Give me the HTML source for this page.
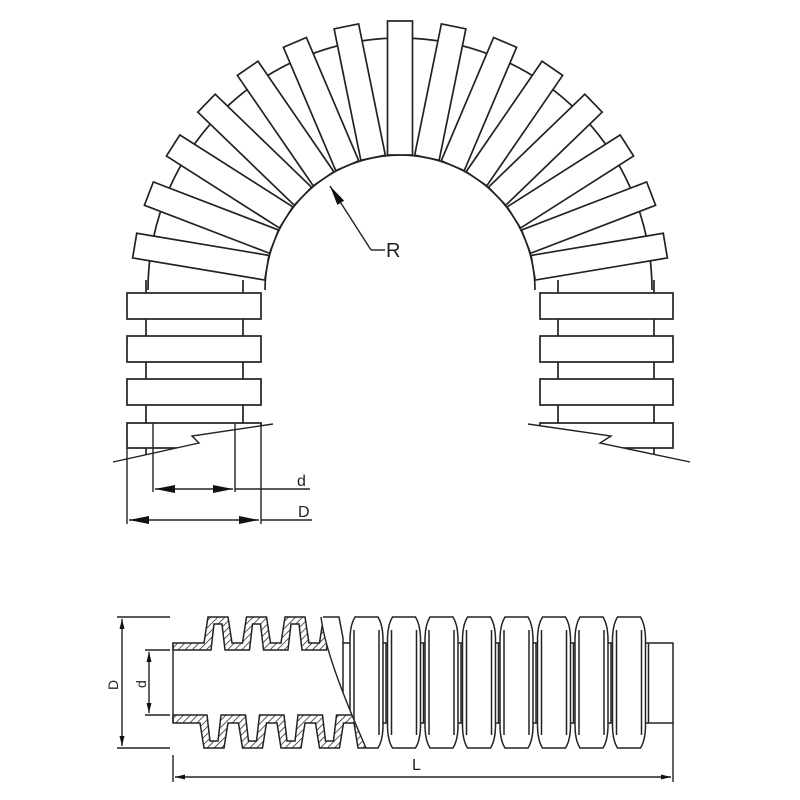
<!DOCTYPE html>
<html><head><meta charset="utf-8"><style>
html,body{margin:0;padding:0;background:#fff;width:800px;height:800px;overflow:hidden}
svg{display:block}
text{font-family:"Liberation Sans",sans-serif;fill:#222}
</style></head><body>
<svg width="800" height="800" viewBox="0 0 800 800" xmlns="http://www.w3.org/2000/svg">
<defs>
<g id="rib"><rect x="387.5" y="21" width="25" height="134" fill="#fff" stroke="#222" stroke-width="1.7"/></g>
<clipPath id="cl"><polygon points="0,0 800,0 800,0 400,300 273,424 192,436 199,443 113,462 0,462"/></clipPath>
<clipPath id="cr"><polygon points="400,0 800,0 800,462 690,462 600,443 611,436 528,424 400,300"/></clipPath>
<clipPath id="cut"><path d="M0,600 L321,600 L321,617 C325,650 345,700 366,748 L366,760 L0,760 Z"/></clipPath>
<pattern id="hatch" width="5" height="5" patternUnits="userSpaceOnUse" patternTransform="rotate(45)">
<rect width="5" height="5" fill="#fff"/><line x1="0" y1="0" x2="0" y2="5" stroke="#222" stroke-width="1.5"/></pattern>
<marker id="ah" viewBox="0 0 20 8" refX="20" refY="4" markerWidth="20" markerHeight="8" markerUnits="userSpaceOnUse" orient="auto-start-reverse"><path d="M0,0 L20,4 L0,8 Z" fill="#111"/></marker>
<marker id="as" viewBox="0 0 12 6" refX="12" refY="3" markerWidth="10" markerHeight="6" markerUnits="userSpaceOnUse" orient="auto-start-reverse"><path d="M0,0 L12,3 L0,6 Z" fill="#111"/></marker>
</defs>
<g fill="none" stroke="#222" stroke-width="1.7">
<path d="M148,290 A252,252 0 0 1 652,290"/>
<path d="M265,290 A135,135 0 0 1 535,290"/>
</g>
<g>
<use href="#rib" transform="rotate(-80.5 400 290)"/>
<use href="#rib" transform="rotate(-69 400 290)"/>
<use href="#rib" transform="rotate(-57.5 400 290)"/>
<use href="#rib" transform="rotate(-46 400 290)"/>
<use href="#rib" transform="rotate(-34.5 400 290)"/>
<use href="#rib" transform="rotate(-23 400 290)"/>
<use href="#rib" transform="rotate(-11.5 400 290)"/>
<use href="#rib" transform="rotate(80.5 400 290)"/>
<use href="#rib" transform="rotate(69 400 290)"/>
<use href="#rib" transform="rotate(57.5 400 290)"/>
<use href="#rib" transform="rotate(46 400 290)"/>
<use href="#rib" transform="rotate(34.5 400 290)"/>
<use href="#rib" transform="rotate(23 400 290)"/>
<use href="#rib" transform="rotate(11.5 400 290)"/>
<use href="#rib"/>
</g>
<g stroke="#222" stroke-width="1.4" fill="none">
<polyline points="371,250 330,186" marker-end="url(#ah)"/>
<line x1="371" y1="250" x2="385" y2="250"/>
</g>
<text x="386" y="257" font-size="20">R</text>
<g clip-path="url(#cl)" fill="#fff" stroke="#222" stroke-width="1.7">
<line x1="146" y1="280" x2="146" y2="470"/><line x1="243" y1="280" x2="243" y2="470"/>
<rect x="127" y="293" width="134" height="26"/>
<rect x="127" y="336" width="134" height="26"/>
<rect x="127" y="379" width="134" height="26"/>
<rect x="127" y="423" width="134" height="25"/>
</g>
<g clip-path="url(#cr)" fill="#fff" stroke="#222" stroke-width="1.7">
<line x1="558" y1="280" x2="558" y2="470"/><line x1="654" y1="280" x2="654" y2="470"/>
<rect x="540" y="293" width="133" height="26"/>
<rect x="540" y="336" width="133" height="26"/>
<rect x="540" y="379" width="133" height="26"/>
<rect x="540" y="423" width="133" height="25"/>
</g>
<g fill="none" stroke="#222" stroke-width="1.4">
<polyline points="113,462 199,443 192,436 273,424"/>
<polyline points="528,424 611,436 600,443 690,462"/>
<line x1="127" y1="448" x2="127" y2="524"/>
<line x1="153" y1="423" x2="153" y2="492"/>
<line x1="235" y1="423" x2="235" y2="492"/>
<line x1="261" y1="423" x2="261" y2="524"/>
<line x1="155" y1="489" x2="233" y2="489" marker-start="url(#ah)" marker-end="url(#ah)"/>
<line x1="235" y1="489" x2="310" y2="489"/>
<line x1="129" y1="520" x2="259" y2="520" marker-start="url(#ah)" marker-end="url(#ah)"/>
<line x1="261" y1="520" x2="312" y2="520"/>
</g>
<text x="297" y="486" font-size="16">d</text>
<text x="298" y="517" font-size="16">D</text>

<g fill="none" stroke="#222" stroke-width="1.4">
<line x1="117" y1="617" x2="205" y2="617"/>
<line x1="117" y1="748" x2="205" y2="748"/>
<line x1="122" y1="619" x2="122" y2="746" marker-start="url(#as)" marker-end="url(#as)"/>
<line x1="145" y1="650" x2="176" y2="650"/>
<line x1="145" y1="715" x2="176" y2="715"/>
<line x1="149" y1="652" x2="149" y2="713" marker-start="url(#as)" marker-end="url(#as)"/>
<line x1="173" y1="715" x2="173" y2="782"/>
<line x1="673" y1="723" x2="673" y2="782"/>
<line x1="175" y1="777" x2="671" y2="777" marker-start="url(#as)" marker-end="url(#as)"/>
</g>
<text x="0" y="0" font-size="14" transform="translate(118,690) rotate(-90)">D</text>
<text x="0" y="0" font-size="14" transform="translate(146,688) rotate(-90)">d</text>
<text x="412" y="770" font-size="16">L</text>

<g fill="#fff" stroke="#222" stroke-width="1.5">
<rect x="330" y="643" width="343" height="80"/>
<line x1="642" y1="643" x2="642" y2="723"/>
<path d="M323,617 L339,617 L343,638 L343,727 L339,748 L335,748"/>
<g id="r1"><path d="M355,617 L378,617 Q383,625 383,640 L383,725 Q383,740 378,748 L355,748 Q350,740 350,725 L350,640 Q350,625 355,617 Z"/>
<line x1="354" y1="630" x2="354" y2="735"/><line x1="379" y1="630" x2="379" y2="735"/>
<line x1="386" y1="643" x2="386" y2="723"/></g>
<use href="#r1" transform="translate(37.5 0)"/>
<use href="#r1" transform="translate(75 0)"/>
<use href="#r1" transform="translate(112.5 0)"/>
<use href="#r1" transform="translate(150 0)"/>
<use href="#r1" transform="translate(187.5 0)"/>
<use href="#r1" transform="translate(225 0)"/>
<use href="#r1" transform="translate(262.5 0)"/>
</g>
<g clip-path="url(#cut)">
<rect x="170" y="610" width="200" height="145" fill="#fff"/>
<path fill="url(#hatch)" stroke="#222" stroke-width="1.5" d="M173,643 L204,643 L208,617 L228,617 L232,643 L242.5,643 L246.5,617 L266.5,617 L270.5,643 L281,643 L285,617 L305,617 L309,643 L319.5,643 L323.5,617 L343.5,617 L347.5,643 L370,643 L370,650 L340.5,650 L337.5,624 L329.5,624 L326.5,650 L302,650 L299,624 L291,624 L288,650 L263.5,650 L260.5,624 L252.5,624 L249.5,650 L225,650 L222,624 L214,624 L211,650 L173,650 Z"/>
<path fill="url(#hatch)" stroke="#222" stroke-width="1.5" d="M173,723 L200,723 L204,748 L224,748 L228,723 L238.5,723 L242.5,748 L262.5,748 L266.5,723 L277,723 L281,748 L301,748 L305,723 L315.5,723 L319.5,748 L339.5,748 L343.5,723 L354,723 L358,748 L378,748 L382,723 L390,723 L390,715 L375,715 L372,741 L364,741 L361,715 L336.5,715 L333.5,741 L325.5,741 L322.5,715 L298,715 L295,741 L287,741 L284,715 L259.5,715 L256.5,741 L248.5,741 L245.5,715 L221,715 L218,741 L210,741 L207,715 L173,715 Z"/>
</g>
<path d="M321,617 C325,650 345,700 366,748" fill="none" stroke="#222" stroke-width="1.4"/>
<line x1="173" y1="643" x2="173" y2="723" stroke="#222" stroke-width="1.4"/>
</svg>
</body></html>
